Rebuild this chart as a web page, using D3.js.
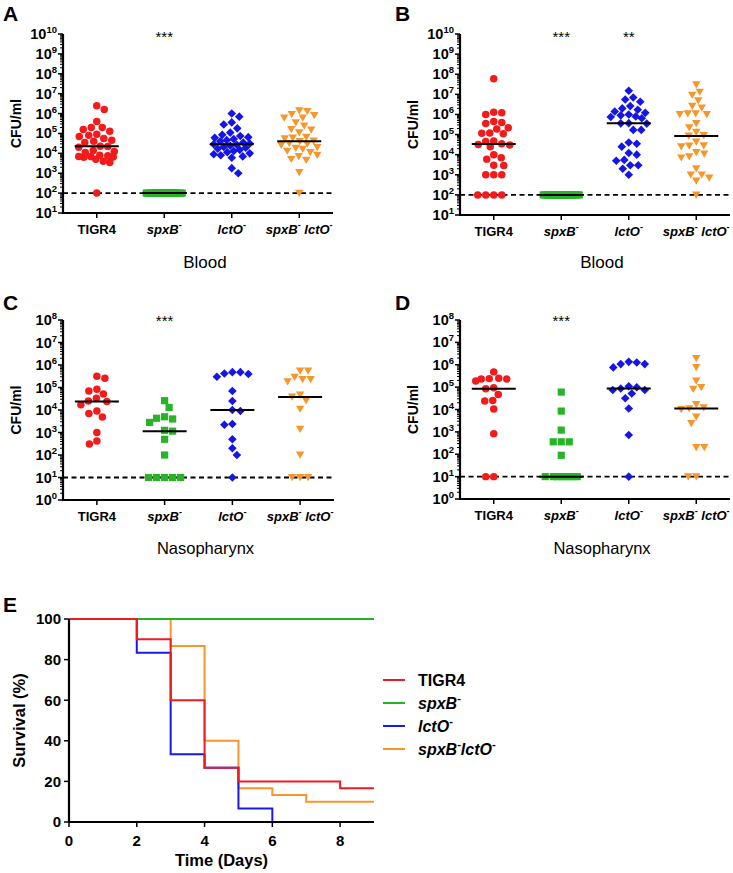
<!DOCTYPE html>
<html><head><meta charset="utf-8">
<script src="https://cdn.jsdelivr.net/npm/d3@7"></script>
<style>body{margin:0;background:#fff}svg{display:block}text{font-family:"Liberation Sans",Arial,sans-serif;fill:#000}</style>
</head><body><svg id="c" width="733" height="873"></svg>
<script>
// ---------- DATA (CFU/ml) ----------
const categories = ["TIGR4", "spxB", "lctO", "spxB lctO"];
// Panel A (Blood)
const aTIGR4 = [2.5e6,1.6e6,4e5,2e5,2e5,1.6e5,1.3e5,9e4,8e4,7e4,5.6e4,4.5e4,4e4,3.5e4,2.3e4,2.2e4,2e4,1.4e4,1.25e4,1.1e4,8e3,7.5e3,7e3,7e3,6.6e3,6.3e3,5e3,4e3,3.5e3,100];
const aSpxB = [100,100,100,100,100,100,100,100,100,100,100,100,100,100,100,100,100,100,100,100,100,100,100,100,100,100,100,100,100,100];
const aLctO = [1e6,7e5,3.6e5,2.8e5,1.8e5,1.1e5,8.5e4,7.5e4,6.5e4,6e4,5.2e4,4.6e4,4e4,3.5e4,3.1e4,2.9e4,2.7e4,2.4e4,2.1e4,1.9e4,1.7e4,1.5e4,1.3e4,1.15e4,1e4,9e3,8e3,7e3,6e3,1.8e3,1e3];
const aDouble = [1.4e6,1.3e6,9e5,8e5,6e5,6e5,3.5e5,2.4e5,1.6e5,1.5e5,1.1e5,6.5e4,6e4,5.5e4,4.2e4,4e4,3.2e4,3e4,2.6e4,2e4,1.8e4,1.6e4,1.3e4,1.1e4,8e3,7e3,5e3,4.5e3,1.1e3,100];
// Panel B (Blood)
const bTIGR4 = [6e7,1.3e6,1.2e6,1e6,4.5e5,4e5,3.5e5,2.2e5,1.9e5,1.2e5,1.15e5,1.1e5,4.8e4,4.5e4,3.5e4,3.2e4,3e4,2.5e4,1e4,7e3,6e3,3e3,2.9e3,1e3,1e3,1e3,100,100,100,100];
const bSpxB = [100,100,100,100,100,100,100,100,100,100,100,100,100,100,100,100,100,100,100,100,100,100,100,100,100,100,100,100,100,100];
const bLctO = [1.5e7,7e6,5.5e6,4.3e6,2.6e6,2e6,1.7e6,1.4e6,1.2e6,1e6,9e5,8e5,7.5e5,6.5e5,3.7e5,3.6e5,3.5e5,1.7e5,1.7e5,4e4,3.5e4,2.5e4,1.2e4,1e4,5.5e3,5e3,3e3,3e3,2e3,1e3];
const bDouble = [3e7,1.3e7,9e6,4.8e6,2.6e6,2.1e6,1.1e6,1.1e6,1e6,1e6,3.6e5,2.2e5,1.3e5,9e4,8.5e4,4.3e4,2.8e4,2.7e4,2.5e4,1.3e4,1.1e4,8e3,7e3,2e3,1e3,1e3,7e2,5e2,100];
// Panel C (Nasopharynx)
const cTIGR4 = [3.2e5,2.6e5,8.3e4,7e4,5.1e4,3.3e4,2.5e4,2.4e4,1.7e4,9e3,7e3,4.9e3,1e3,4.2e2,3.1e2];
const cSpxB = [2.6e4,1.3e4,5e3,4.3e3,4e3,2.8e3,1.25e3,1.15e3,5e2,100,10,10,10,10,10];
const cLctO = [4.8e5,4.8e5,4.2e5,4e5,3e5,7e4,2.5e4,1e4,9e3,2.4e3,2.2e3,5e2,2e2,100,10];
const cDouble = [5.4e5,5.4e5,2.9e5,2.3e5,2.3e5,1.8e5,4.7e4,3.8e4,2.6e4,1.1e4,1.4e3,100,10,10,10];
// Panel D (Nasopharynx)
const dTIGR4 = [4.8e5,2.4e5,2.5e5,2.3e5,2.3e5,1.9e5,9.3e4,8.5e4,4.7e4,2.5e4,2.4e4,1.05e4,8.3e2,10,10];
const dSpxB = [6e4,8.5e3,1.2e3,3.6e2,3.6e2,3.6e2,90,10,10,10,10,10,10,10,10];
const dLctO = [1.35e6,1.26e6,1.07e6,1.07e6,7.6e5,1.1e5,9.8e4,8.7e4,7.4e4,7.4e4,5.2e4,3.2e4,1.1e4,7.2e2,10];
const dDouble = [1.9e6,7.6e5,1.9e5,9.7e4,8.1e4,1.7e4,1.2e4,1.1e4,1e4,4.7e3,2.4e3,2e2,2e2,10,10];
// Significance marks
const starsA = ["", "***", "", ""];
const starsB = ["", "***", "**", ""];
const starsC = ["", "***", "", ""];
const starsD = ["", "***", "", ""];
// Panel E survival (%), step after each time
const survTimesTIGR4 = [0,2,3,4,5,8,9];
const survTIGR4 = [100,90,60,26.67,20,16.67,16.67];
const survTimesSpxB = [0,9];
const survSpxB = [100,100];
const survTimesLctO = [0,2,3,4,5,6];
const survLctO = [100,83.33,33.33,26.67,6.67,0];
const survTimesDouble = [0,3,4,5,6,7,9];
const survDouble = [100,86.67,40,16.67,13.33,10,10];
const survTicksX = [0,2,4,6,8];
const survTicksY = [0,20,40,60,80,100];

// ---------- STYLE ----------
const colors = ["#f21a1a", "#27b427", "#1515e8", "#f7962a"];
const lineColors = ["#ec1c24", "#22b422", "#1a1ae6", "#f7962a"];
const svg = d3.select("#c");

const labelParts = [
  [{t:"TIGR4"}],
  [{t:"spxB",i:1},{t:"-",s:1}],
  [{t:"lctO",i:1},{t:"-",s:1}],
  [{t:"spxB",i:1},{t:"-",s:1},{t:" lctO",i:1},{t:"-",s:1}]
];
const legendParts = [
  [{t:"TIGR4"}],
  [{t:"spxB",i:1},{t:"-",s:1}],
  [{t:"lctO",i:1},{t:"-",s:1}],
  [{t:"spxB",i:1},{t:"-",s:1},{t:"lctO",i:1},{t:"-",s:1}]
];

function richText(g, parts, x, y, size, anchor) {
  const t = g.append("text").attr("x", x).attr("y", y).attr("font-size", size)
    .attr("font-weight", "bold").attr("text-anchor", anchor);
  let shifted = false;
  parts.forEach(p => {
    const ts = t.append("tspan").text(p.t);
    if (p.i) ts.attr("font-style", "italic");
    if (p.s) { ts.attr("font-size", size * 0.7).attr("dy", -size * 0.42); shifted = true; }
    else if (shifted) { ts.attr("dy", size * 0.42); shifted = false; }
  });
  return t;
}

function markerPath(kind) {
  if (kind === 0) return d3.symbol(d3.symbolCircle, 44)();
  if (kind === 1) return "M-3.6,-3.6H3.6V3.6H-3.6Z";
  if (kind === 2) return "M0,-4.3L4.3,0L0,4.3L-4.3,0Z";
  return "M-4.2,-3.4H4.2L0,3.8Z";
}

function swarm(vals, y, D, W) {
  const pts = vals.map(v => ({v, y: y(v)})).sort((a, b) => a.y - b.y);
  const placed = [];
  let toggle = 1;
  pts.forEach(p => {
    const md = o => {
      let m = Infinity;
      placed.forEach(q => {
        const dy = p.y - q.y;
        if (Math.abs(dy) < D) m = Math.min(m, Math.hypot(o - q.x, dy));
      });
      return m;
    };
    let chosen = null;
    for (let o = 0; o <= W && chosen === null; o += 0.5) {
      const sides = o === 0 ? [0] : [toggle * o, -toggle * o];
      for (const s of sides) { if (md(s) >= D) { chosen = s; break; } }
    }
    if (chosen === null) {
      let best = -1;
      for (let o = 0; o <= W; o += 0.5) {
        const sides = o === 0 ? [0] : [toggle * o, -toggle * o];
        for (const s of sides) { const m = md(s); if (m > best + 1e-6) { best = m; chosen = s; } }
      }
    }
    if (chosen !== 0) toggle = -toggle;
    p.x = chosen;
    placed.push(p);
  });
  return pts;
}

function logPanel(o) {
  const g = svg.append("g");
  const y = d3.scaleLog().domain(o.domain).range([o.yBot, o.yTop]);
  const x = d3.scalePoint().domain(categories).range([o.x0, o.x1]).padding(0.5);
  const lo = Math.round(Math.log10(o.domain[0])), hi = Math.round(Math.log10(o.domain[1]));
  for (let k = lo; k <= hi; k++) {
    g.append("line").attr("x1", o.x0 - 5).attr("x2", o.x0).attr("y1", y(10 ** k)).attr("y2", y(10 ** k))
      .attr("stroke", "#000").attr("stroke-width", 1.5);
    const t = g.append("text").attr("x", o.x0 - 6).attr("y", y(10 ** k) + 5).attr("text-anchor", "end")
      .attr("font-size", 14.5).attr("font-weight", "bold");
    t.append("tspan").text("10");
    t.append("tspan").text(k).attr("font-size", 9.5).attr("dy", -6);
    if (k < hi) for (let m = 2; m <= 9; m++) {
      g.append("line").attr("x1", o.x0 - 3).attr("x2", o.x0).attr("y1", y(m * 10 ** k)).attr("y2", y(m * 10 ** k))
        .attr("stroke", "#000").attr("stroke-width", 1);
    }
  }
  g.append("line").attr("x1", o.x0).attr("x2", o.x1).attr("y1", y(o.lod)).attr("y2", y(o.lod))
    .attr("stroke", "#000").attr("stroke-width", 1.8).attr("stroke-dasharray", "5,3.5");
  o.groups.forEach((vals, i) => {
    const pts = swarm(vals, y, 8, 18);
    g.append("g").selectAll("path").data(pts).join("path")
      .attr("d", markerPath(i)).attr("fill", colors[i])
      .attr("transform", d => `translate(${x(categories[i]) + d.x},${d.y})`);
  });
  o.groups.forEach((vals, i) => {
    const m = d3.median(vals);
    g.append("line").attr("x1", x(categories[i]) - 22).attr("x2", x(categories[i]) + 22)
      .attr("y1", y(m)).attr("y2", y(m)).attr("stroke", "#000").attr("stroke-width", 2);
  });
  g.append("line").attr("x1", o.x0).attr("x2", o.x0).attr("y1", o.yTop).attr("y2", o.yBot + 1)
    .attr("stroke", "#000").attr("stroke-width", 2.2);
  g.append("line").attr("x1", o.x0 - 1).attr("x2", o.x1).attr("y1", o.yBot).attr("y2", o.yBot)
    .attr("stroke", "#000").attr("stroke-width", 2.2);
  categories.forEach((c, i) => {
    g.append("line").attr("x1", x(c)).attr("x2", x(c)).attr("y1", o.yBot).attr("y2", o.yBot + 5)
      .attr("stroke", "#000").attr("stroke-width", 1.5);
    richText(g, labelParts[i], x(c), o.yBot + 20.5, 13, "middle");
    if (o.stars[i]) g.append("text").attr("x", x(c)).attr("y", o.starY).attr("text-anchor", "middle")
      .attr("font-size", 15).text(o.stars[i]);
  });
  g.append("text").attr("transform", `translate(${o.x0 - 47},${(o.yTop + o.yBot) / 2}) rotate(-90)`)
    .attr("text-anchor", "middle").attr("dy", 5).attr("font-size", 14).attr("font-weight", "bold").text("CFU/ml");
  g.append("text").attr("x", (o.x0 + o.x1) / 2 + 7).attr("y", o.titleY).attr("text-anchor", "middle")
    .attr("font-size", o.titleSize).text(o.title);
  g.append("text").attr("x", o.letterX).attr("y", o.letterY).attr("font-size", 21).attr("font-weight", "bold").text(o.letter);
}

logPanel({x0: 63, x1: 333, yTop: 34, yBot: 213, domain: [10, 1e10], lod: 100,
  groups: [aTIGR4, aSpxB, aLctO, aDouble], stars: starsA, starY: 42, title: "Blood", titleSize: 17, titleY: 268,
  letter: "A", letterX: 3, letterY: 21});
logPanel({x0: 460, x1: 730, yTop: 34, yBot: 215, domain: [10, 1e10], lod: 100,
  groups: [bTIGR4, bSpxB, bLctO, bDouble], stars: starsB, starY: 42, title: "Blood", titleSize: 17, titleY: 268,
  letter: "B", letterX: 395, letterY: 21});
logPanel({x0: 63, x1: 334, yTop: 320, yBot: 500, domain: [1, 1e8], lod: 10,
  groups: [cTIGR4, cSpxB, cLctO, cDouble], stars: starsC, starY: 326, title: "Nasopharynx", titleSize: 16.5, titleY: 554,
  letter: "C", letterX: 3, letterY: 310});
logPanel({x0: 460, x1: 730, yTop: 320, yBot: 499, domain: [1, 1e8], lod: 10,
  groups: [dTIGR4, dSpxB, dLctO, dDouble], stars: starsD, starY: 326, title: "Nasopharynx", titleSize: 16.5, titleY: 554,
  letter: "D", letterX: 395, letterY: 310});

// ---------- Panel E ----------
(function () {
  const g = svg.append("g");
  const x = d3.scaleLinear().domain([0, 9]).range([69, 374]);
  const y = d3.scaleLinear().domain([0, 100]).range([822, 619]);
  const series = [
    {t: survTimesDouble, s: survDouble, c: 3},
    {t: survTimesSpxB, s: survSpxB, c: 1},
    {t: survTimesLctO, s: survLctO, c: 2},
    {t: survTimesTIGR4, s: survTIGR4, c: 0}
  ];
  const line = d3.line().x(d => x(d[0])).y(d => y(d[1])).curve(d3.curveStepAfter);
  series.forEach(sr => {
    g.append("path").attr("d", line(sr.t.map((t, i) => [t, sr.s[i]]))).attr("fill", "none")
      .attr("stroke", lineColors[sr.c]).attr("stroke-width", 2);
  });
  g.append("line").attr("x1", 69).attr("x2", 69).attr("y1", 619).attr("y2", 823).attr("stroke", "#000").attr("stroke-width", 2.2);
  g.append("line").attr("x1", 68).attr("x2", 374).attr("y1", 822).attr("y2", 822).attr("stroke", "#000").attr("stroke-width", 2.2);
  survTicksY.forEach(v => {
    g.append("line").attr("x1", 64).attr("x2", 69).attr("y1", y(v)).attr("y2", y(v)).attr("stroke", "#000").attr("stroke-width", 1.5);
    g.append("text").attr("x", 61).attr("y", y(v) + 5.3).attr("text-anchor", "end").attr("font-size", 15)
      .attr("font-weight", "bold").text(v);
  });
  survTicksX.forEach(v => {
    g.append("line").attr("x1", x(v)).attr("x2", x(v)).attr("y1", 822).attr("y2", 827).attr("stroke", "#000").attr("stroke-width", 1.5);
    g.append("text").attr("x", x(v)).attr("y", 845.5).attr("text-anchor", "middle").attr("font-size", 15)
      .attr("font-weight", "bold").text(v);
  });
  g.append("text").attr("x", 221.5).attr("y", 866).attr("text-anchor", "middle").attr("font-size", 16.5)
    .attr("font-weight", "bold").text("Time (Days)");
  g.append("text").attr("transform", "translate(19,720.5) rotate(-90)").attr("text-anchor", "middle").attr("dy", 6)
    .attr("font-size", 16.5).attr("font-weight", "bold").text("Survival (%)");
  g.append("text").attr("x", 3).attr("y", 612).attr("font-size", 21).attr("font-weight", "bold").text("E");
  const ly = [680, 703, 726, 749];
  ly.forEach((yy, i) => {
    g.append("line").attr("x1", 383).attr("x2", 405).attr("y1", yy).attr("y2", yy)
      .attr("stroke", lineColors[i]).attr("stroke-width", 2);
    richText(g, legendParts[i], 418, yy + 6, 16, "start");
  });
})();
</script></body></html>
